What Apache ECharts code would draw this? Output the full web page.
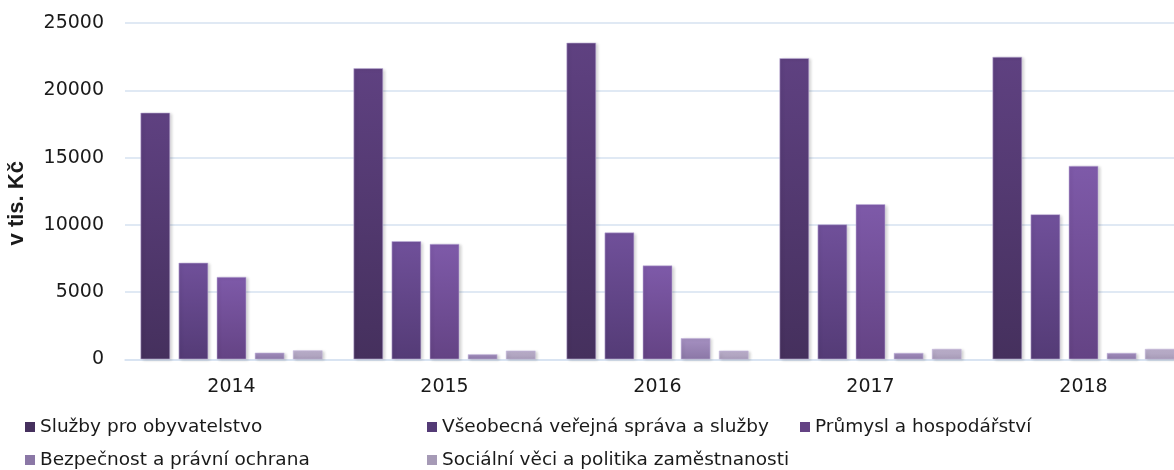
<!DOCTYPE html>
<html>
<head>
<meta charset="utf-8">
<script src="https://cdn.jsdelivr.net/npm/echarts@6/dist/echarts.min.js"></script>
<style>
  html, body { margin: 0; padding: 0; background: #fff; }
  #chart { width: 1174px; height: 470px; }
</style>
</head>
<body>
<div id="chart"></div>
<script>
const years = ['2014', '2015', '2016', '2017', '2018']
const seriesNames = [
  'Služby pro obyvatelstvo',
  'Všeobecná veřejná správa a služby',
  'Průmysl a hospodářství',
  'Bezpečnost a právní ochrana',
  'Sociální věci a politika zaměstnanosti'
]
const sluzby = [18350, 21650, 23550, 22400, 22500]
const sprava = [7200, 8800, 9450, 10050, 10800]
const prumysl = [6150, 8600, 7000, 11550, 14400]
const bezpecnost = [520, 400, 1600, 500, 500]
const socialni = [690, 670, 670, 800, 800]
const yTicks = [0, 5000, 10000, 15000, 20000, 25000]

// top / bottom colour of each series gradient
const shades = [
  ['#5f4181', '#45305d'],
  ['#70509a', '#543b76'],
  ['#7e5aa9', '#644384'],
  ['#a691c2', '#8b77a6'],
  ['#bfb3cf', '#a69ab6']
]
const values = [sluzby, sprava, prumysl, bezpecnost, socialni]

const font = 'DejaVu Sans'
const chart = echarts.init(document.getElementById('chart'))

function gradient(i) {
  return new echarts.graphic.LinearGradient(0, 0, 0, 1, [
    { offset: 0, color: shades[i][0] },
    { offset: 1, color: shades[i][1] }
  ])
}

const legendPos = [
  { left: 25, top: 417 },
  { left: 427, top: 417 },
  { left: 800, top: 417 },
  { left: 25, top: 450 },
  { left: 427, top: 450 }
]

const option = {
  animation: false,
  // the plot runs past the right edge of the picture, as in the original
  grid: { left: 125, top: 23, width: 1065, height: 336.5, outerBoundsMode: 'none', containLabel: false },
  legend: seriesNames.map((name, i) => ({
    data: [name],
    left: legendPos[i].left,
    top: legendPos[i].top,
    padding: 0,
    icon: 'rect',
    itemWidth: 10,
    itemHeight: 10,
    itemStyle: { color: shades[i][1], borderWidth: 0, shadowBlur: 0 },
    textStyle: { fontFamily: font, fontSize: 18.5, color: '#1a1a1a', lineHeight: 20 }
  })),
  xAxis: {
    type: 'category',
    data: years,
    axisTick: { show: false },
    axisLine: { lineStyle: { color: '#d6e2f1', width: 1.5 } },
    axisLabel: { fontFamily: font, fontSize: 19, color: '#1a1a1a', margin: 18 }
  },
  yAxis: {
    type: 'value',
    min: yTicks[0],
    max: yTicks[yTicks.length - 1],
    interval: yTicks[1] - yTicks[0],
    name: 'v tis. Kč',
    nameLocation: 'middle',
    nameRotate: 90,
    nameGap: 97,
    nameTextStyle: {
      fontFamily: 'Liberation Sans',
      fontWeight: 'bold',
      fontSize: 22,
      color: '#1a1a1a',
      padding: [0, 24, 0, 0]
    },
    axisLine: { show: false },
    axisTick: { show: false },
    splitLine: { lineStyle: { color: '#d6e2f1', width: 1.5 } },
    axisLabel: {
      fontFamily: font,
      fontSize: 19,
      color: '#1a1a1a',
      margin: 21,
      formatter: v => String(v)
    }
  },
  series: seriesNames.map((name, i) => ({
    name: name,
    type: 'bar',
    barWidth: 30,
    barGap: '27%',
    data: values[i],
    itemStyle: {
      color: gradient(i),
      borderColor: 'rgba(195,180,220,0.55)',
      borderWidth: 1,
      shadowBlur: 3,
      shadowColor: 'rgba(0,0,0,0.18)',
      shadowOffsetX: 2,
      shadowOffsetY: 1
    }
  }))
}

chart.setOption(option)
</script>
</body>
</html>
